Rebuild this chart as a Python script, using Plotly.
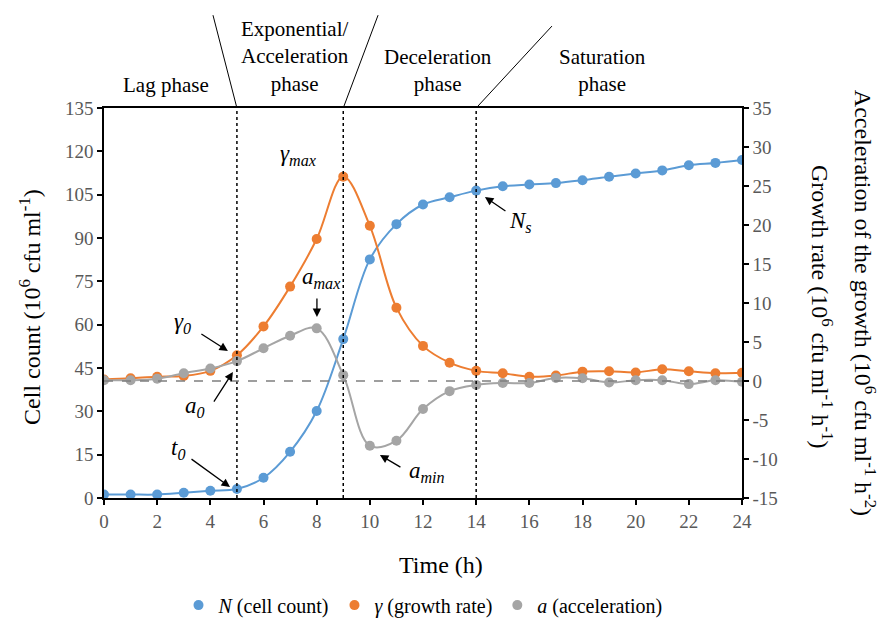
import plotly.graph_objects as go

# ---- data ----
time_h = list(range(25))
cell_count = [1.2, 1.2, 1.2, 1.8, 2.5, 3.1, 7.0, 16.0, 30.1, 55.0, 82.6, 94.8, 101.6,
              104.1, 106.4, 107.9, 108.5, 109.0, 110.0, 111.2, 112.3, 113.4, 115.2, 116.0, 117.0]
growth_rate = [0.2, 0.35, 0.55, 0.65, 1.3, 3.3, 7.0, 12.1, 18.2, 26.2, 19.9, 9.4, 4.5,
               2.35, 1.3, 1.0, 0.55, 0.7, 1.2, 1.25, 1.1, 1.5, 1.25, 1.0, 1.05]
acceleration = [0.1, 0.1, 0.3, 1.0, 1.6, 2.55, 4.2, 5.8, 6.75, 0.75, -8.3, -7.65, -3.6,
                -1.3, -0.5, -0.26, -0.26, 0.4, 0.35, -0.2, 0.1, 0.1, -0.4, 0.1, -0.1]
phase_bounds = [5, 9, 14]
left_ticks = list(range(0, 136, 15))
right_ticks = list(range(-15, 36, 5))
right_tick_text = [str(v) for v in right_ticks]
x_ticks = list(range(0, 25, 2))

BLUE = "#5B9BD5"
ORANGE = "#ED7D31"
GRAY = "#A5A5A5"
FONT = "Times New Roman, Liberation Serif, DejaVu Serif, serif"
TICKCOL = "#595959"

fig = go.Figure()

series = [
    ("<i>N</i> (cell count)", cell_count, BLUE, "y"),
    ("<i>γ</i> (growth rate)", growth_rate, ORANGE, "y2"),
    ("<i>a</i> (acceleration)", acceleration, GRAY, "y2"),
]
for name, vals, col, ax in series:
    fig.add_trace(go.Scatter(
        x=time_h, y=vals, mode="lines+markers", name=name, yaxis=ax,
        line=dict(color=col, width=2, shape="spline", smoothing=1),
        marker=dict(color=col, size=10), showlegend=False))
# legend-only entries (dot markers, no line)
for name, vals, col, ax in series:
    fig.add_trace(go.Scatter(
        x=[None], y=[None], mode="markers", name=name, yaxis=ax,
        marker=dict(color=col, size=10), showlegend=True))

shapes = []
for b in phase_bounds:
    shapes.append(dict(type="line", xref="x", yref="y", x0=b, x1=b, y0=0, y1=135,
                       line=dict(color="black", width=1.5, dash="dot")))
slants = [(5, 4.10, 1.238), (9, 10.31, 1.238), (14, 16.85, 1.21)]
for xb, xt, yt in slants:
    shapes.append(dict(type="line", xref="x", yref="paper", x0=xb, y0=1.0, x1=xt, y1=yt,
                       line=dict(color="black", width=1)))
shapes.append(dict(type="line", xref="x", yref="y2", x0=0, x1=24, y0=0, y1=0,
                   line=dict(color="#7F7F7F", width=1.3, dash="dash")))

ann = []
phase_labels = [
    ("Lag phase", 0.097, 1.059),
    ("Exponential/<br>Acceleration<br>phase", 0.299, 1.131),
    ("Deceleration<br>phase", 0.5235, 1.097),
    ("Saturation<br>phase", 0.7806, 1.097),
]
for t, x, y in phase_labels:
    ann.append(dict(text=t, xref="paper", yref="paper", x=x, y=y, showarrow=False,
                    font=dict(family=FONT, size=21, color="black"), xanchor="center",
                    yanchor="middle"))

labels = [
    ("<i>γ<sub>0</sub></i>", 2.97, 60.6),
    ("<i>a<sub>0</sub></i>", 3.42, 31.5),
    ("<i>t<sub>0</sub></i>", 2.78, 17.0),
    ("<i>γ<sub>max</sub></i>", 7.30, 118.7),
    ("<i>a<sub>max</sub></i>", 8.20, 76.2),
    ("<i>a<sub>min</sub></i>", 12.15, 9.0),
    ("<i>N<sub>s</sub></i>", 15.65, 95.5),
]
for t, x, y in labels:
    ann.append(dict(text=t, xref="x", yref="y", x=x, y=y, showarrow=False,
                    xanchor="center", yanchor="middle",
                    font=dict(family=FONT, size=23, color="black")))

arrows = [
    (4.66, 50.9, -28, -18),
    (4.85, 43.6, -20, 31),
    (4.74, 3.8, -40, -29),
    (8.01, 62.65, 0, -20),
    (10.38, 14.9, 22, 13),
    (14.33, 104.2, 22, 15),
]
for x, y, axp, ayp in arrows:
    ann.append(dict(text="", xref="x", yref="y", x=x, y=y, ax=axp, ay=ayp,
                    showarrow=True, arrowhead=2, arrowsize=1.3, arrowwidth=1.3,
                    arrowcolor="black"))

titles = [
    ("Time (h)", 0.528, -0.172, 0),
    ("Cell count (10<sup>6</sup> cfu ml<sup>-1</sup>)", -0.116, 0.49, -90),
    ("Growth rate (10<sup>6</sup> cfu ml<sup>-1</sup> h<sup>-1</sup>)", 1.1254, 0.49, 90),
    ("Acceleration of the growth (10<sup>6</sup> cfu ml<sup>-1</sup> h<sup>-2</sup>)",
     1.193, 0.5, 90),
]
for t, x, y, ang in titles:
    ann.append(dict(text=t, xref="paper", yref="paper", x=x, y=y, textangle=ang,
                    showarrow=False, xanchor="center", yanchor="middle",
                    font=dict(family=FONT, size=24, color="black")))

axis_common = dict(showline=True, linecolor="black", linewidth=1.5, ticks="outside",
                   ticklen=5, tickwidth=1.5, tickcolor="black", showgrid=False,
                   zeroline=False, tickfont=dict(family=FONT, size=19, color=TICKCOL))

fig.update_layout(
    width=880, height=620,
    margin=dict(l=104, r=138, t=108, b=122),
    paper_bgcolor="white", plot_bgcolor="white",
    font=dict(family=FONT, color="black"),
    xaxis=dict(range=[0, 24], tickvals=x_ticks, mirror=True, **axis_common),
    yaxis=dict(range=[0, 135], tickvals=left_ticks, **axis_common),
    yaxis2=dict(range=[-15, 35], tickvals=right_ticks, ticktext=right_tick_text,
                overlaying="y", side="right", **axis_common),
    shapes=shapes, annotations=ann,
    legend=dict(orientation="h", x=0.5, xanchor="center", xref="paper",
                y=0.024, yref="container", yanchor="middle",
                font=dict(family=FONT, size=20, color="black"), itemwidth=30),
)

fig.write_html("out.html", config={"displayModeBar": False},
               post_script="document.body.style.margin='0';document.body.style.overflow='hidden';")
